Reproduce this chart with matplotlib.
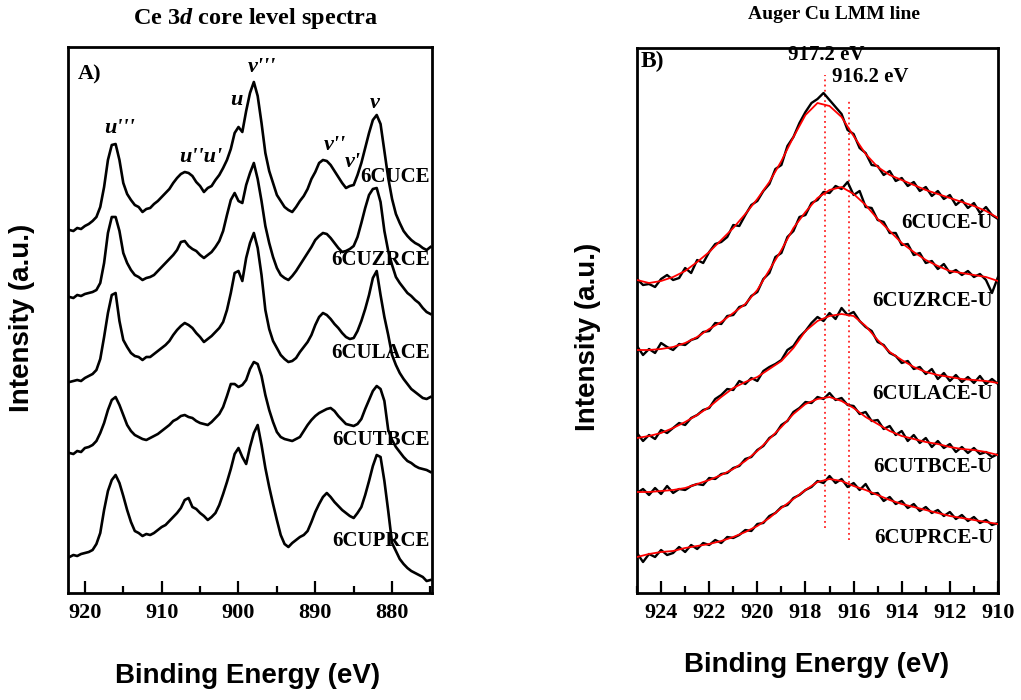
import numpy as np
import matplotlib
matplotlib.use("Agg")
import matplotlib.pyplot as plt
from matplotlib.ticker import MultipleLocator

plt.rcParams['font.family'] = 'Liberation Serif'
plt.rcParams['mathtext.fontset'] = 'custom'
plt.rcParams['mathtext.rm'] = 'Liberation Serif:bold'
plt.rcParams['mathtext.it'] = 'Liberation Serif:bold:italic'
plt.rcParams['mathtext.bf'] = 'Liberation Serif:bold'

# ---- Ce 3d spectra (stacked, a.u.) ----
be_ce = np.arange(922, 874.75, -0.5)

ce_6cuce = [363, 362, 365, 364, 367, 369, 372, 376, 386, 406,
            433, 448, 449, 433, 410, 399, 393, 388, 386, 381,
            384, 385, 389, 392, 396, 400, 404, 410, 415, 419,
            421, 420, 417, 411, 407, 401, 405, 407, 413, 418,
            425, 433, 444, 460, 466, 461, 482, 500, 511, 497,
            470, 440, 422, 410, 398, 392, 386, 383, 381, 386,
            392, 397, 404, 414, 421, 430, 433, 432, 428, 422,
            416, 410, 405, 407, 408, 418, 430, 445, 460, 473,
            478, 469, 442, 415, 394, 379, 370, 362, 357, 353,
            350, 348, 345, 343, 346]
ce_6cuzrce = [296, 295, 298, 297, 299, 300, 301, 303, 310, 330,
              360, 376, 376, 362, 340, 330, 323, 318, 316, 313,
              315, 316, 318, 322, 326, 330, 334, 338, 343, 351,
              352, 347, 344, 342, 338, 335, 338, 341, 346, 352,
              362, 378, 393, 400, 392, 390, 408, 420, 430, 414,
              392, 367, 350, 336, 325, 318, 315, 313, 317, 322,
              328, 334, 340, 346, 353, 357, 360, 359, 355, 350,
              345, 341, 342, 344, 347, 356, 370, 385, 398, 404,
              405, 391, 362, 342, 328, 316, 310, 305, 300, 297,
              293, 290, 285, 281, 279]
ce_6culace = [211, 212, 213, 212, 215, 217, 219, 223, 234, 256,
              280, 298, 300, 272, 253, 246, 240, 237, 236, 233,
              236, 236, 239, 242, 245, 248, 252, 258, 263, 267,
              270, 268, 265, 260, 256, 251, 254, 257, 261, 265,
              271, 283, 300, 320, 322, 312, 335, 350, 360, 345,
              318, 283, 264, 252, 245, 238, 234, 231, 232, 235,
              241, 246, 251, 258, 268, 276, 280, 278, 274, 269,
              265, 260, 256, 254, 255, 262, 272, 284, 298, 315,
              322, 298, 276, 258, 238, 228, 220, 214, 209, 204,
              201, 198, 195, 194, 196]
ce_6cutbce = [140, 139, 142, 141, 145, 146, 148, 152, 160, 170,
              183, 193, 196, 188, 178, 168, 162, 158, 156, 154,
              153, 155, 157, 159, 162, 165, 168, 172, 174, 177,
              178, 176, 175, 172, 170, 169, 168, 171, 175, 179,
              186, 197, 209, 209, 206, 208, 213, 224, 231, 229,
              217, 198, 183, 171, 161, 156, 154, 153, 152, 154,
              156, 162, 168, 173, 177, 180, 182, 184, 185, 182,
              177, 173, 169, 168, 167, 169, 174, 184, 193, 202,
              207, 204, 192, 163, 153, 146, 141, 136, 132, 130,
              127, 125, 124, 123, 121]
ce_6cuprce = [36, 38, 37, 39, 40, 41, 43, 49, 60, 83,
              102, 113, 118, 110, 97, 83, 71, 62, 60, 57,
              59, 58, 60, 63, 66, 68, 72, 76, 80, 85,
              93, 95, 86, 84, 80, 77, 73, 76, 80, 88,
              99, 111, 124, 139, 145, 136, 129, 146, 160, 168,
              148, 125, 106, 89, 73, 58, 49, 46, 50, 53,
              56, 58, 62, 71, 81, 89, 96, 100, 96, 91,
              87, 83, 80, 77, 75, 80, 86, 98, 112, 127,
              138, 136, 112, 82, 50, 42, 34, 29, 25, 22,
              20, 18, 16, 12, 13]

ce_names = ["6CUCE", "6CUZRCE", "6CULACE", "6CUTBCE", "6CUPRCE"]
ce_label_y = [416, 333, 240, 153, 52]

# peak assignments (label, BE, height)
ce_peaks = ["u'''", "u''u'", "u", "v'''", "v''", "v'", "v"]
ce_peak_x = [915.5, 904.9, 900.3, 896.9, 887.5, 885.1, 882.2]
ce_peak_y = [465, 436, 493, 526, 448, 431, 490]

# ---- Auger Cu LMM (raw + fit) ----
be_cu = np.arange(925, 909.9, -0.25)
be_fit = np.arange(925, 909.9, -0.5)

cu_raw_6cuce = [314, 308, 309, 306, 314, 318, 313, 315, 325, 320,
                333, 330, 341, 349, 351, 356, 368, 367, 378, 388,
                392, 402, 409, 424, 428, 447, 456, 470, 481, 490,
                494, 500, 493, 486, 479, 463, 459, 445, 440, 428,
                427, 418, 422, 412, 415, 407, 411, 402, 406, 397,
                402, 394, 398, 388, 393, 385, 390, 380, 386, 378,
                374]
cu_raw_6cuzrce = [247, 238, 244, 240, 250, 246, 243, 249, 248, 253,
                  255, 261, 262, 270, 269, 277, 278, 286, 288, 297,
                  301, 314, 320, 336, 340, 356, 362, 376, 378, 390,
                  393, 401, 400, 407, 404, 411, 398, 402, 386, 385,
                  373, 371, 360, 360, 348, 349, 338, 340, 330, 332,
                  324, 329, 320, 323, 318, 322, 316, 319, 313, 300,
                  316]
cu_raw_6culace = [160, 152, 158, 154, 163, 160, 165, 170, 168, 175,
                  178, 183, 185, 194, 198, 204, 203, 212, 209, 215,
                  212, 222, 226, 229, 233, 243, 247, 256, 262, 270,
                  276, 272, 280, 274, 285, 278, 281, 272, 266, 262,
                  251, 248, 240, 237, 230, 232, 224, 226, 219, 224,
                  214, 220, 212, 218, 211, 216, 210, 217, 209, 214,
                  209]
cu_raw_6cutbce = [100, 104, 98, 105, 99, 107, 100, 104, 103, 107,
                  109, 108, 115, 114, 119, 120, 125, 127, 134, 136,
                  143, 147, 155, 159, 168, 172, 181, 185, 191, 190,
                  196, 194, 200, 193, 195, 188, 187, 179, 181, 172,
                  173, 164, 167, 158, 162, 152, 158, 150, 155, 146,
                  152, 145, 149, 141, 146, 140, 145, 139, 141, 136,
                  139]
cu_raw_6cuprce = [40, 31, 39, 36, 43, 38, 40, 46, 41, 48,
                  44, 50, 48, 53, 50, 56, 55, 58, 63, 62,
                  69, 70, 77, 80, 86, 88, 95, 98, 103, 106,
                  112, 110, 117, 110, 114, 106, 110, 103, 109, 99,
                  100, 92, 96, 89, 92, 85, 89, 82, 86, 80,
                  83, 77, 81, 74, 78, 72, 76, 70, 73, 68,
                  70]

cu_fit_6cuce = [313, 310, 312, 316, 322, 331, 341, 353, 365, 379, 394, 411, 432, 456, 478,
                490, 487, 476, 457, 439, 426, 418, 413, 408, 403, 399, 395, 391, 387, 382, 375]
cu_fit_6cuzrce = [243, 243, 244, 246, 250, 256, 264, 271, 280, 289, 303, 323, 343, 365, 381,
                  395, 403, 406, 399, 388, 374, 362, 350, 341, 333, 327, 322, 320, 318, 316, 312]
cu_fit_6culace = [155, 157, 160, 165, 171, 178, 186, 196, 205, 211, 216, 224, 232, 245, 262,
                  272, 277, 279, 277, 267, 253, 241, 233, 226, 221, 218, 216, 214, 213, 212, 210]
cu_fit_6cutbce = [101, 101, 102, 103, 105, 109, 113, 118, 124, 132, 142, 154, 166, 179, 189,
                  194, 196, 192, 185, 176, 169, 162, 157, 154, 151, 149, 146, 144, 143, 141, 138]
cu_fit_6cuprce = [36, 39, 41, 42, 45, 47, 49, 52, 56, 61, 67, 75, 85, 94, 103,
                  111, 114, 112, 107, 103, 98, 93, 89, 86, 83, 80, 77, 75, 73, 71, 69]

cu_names = ["6CUCE-U", "6CUZRCE-U", "6CULACE-U", "6CUTBCE-U", "6CUPRCE-U"]
cu_label_y = [370, 292, 199, 126, 55]

# Cu LMM peak markers: position, vertical extent, label spot
cu_peak_pos = [917.2, 916.2]
cu_peak_span = [(65, 518), (53, 493)]
cu_peak_label_x = [917.14, 915.3]
cu_peak_label_y = [538, 516]

# ---- figure ----
fig = plt.figure(figsize=(10.21, 7.0), dpi=100)
axA = fig.add_axes([68 / 1021, 1 - 593 / 700, 364 / 1021, 546 / 700])
axB = fig.add_axes([637 / 1021, 1 - 593 / 700, 361 / 1021, 545 / 700])

for ax in (axA, axB):
    for s in ax.spines.values():
        s.set_linewidth(2.0)
    ax.tick_params(axis='x', which='both', direction='in', top=False, width=1.6,
                   labelsize=16, pad=7)
    ax.tick_params(axis='x', which='major', length=9)
    ax.tick_params(axis='x', which='minor', length=5)
    ax.set_yticks([])

# panel A
ce_curves = [ce_6cuce, ce_6cuzrce, ce_6culace, ce_6cutbce, ce_6cuprce]
for y in ce_curves:
    axA.plot(be_ce, y, color='black', lw=1.9, zorder=2)
for name, yl in zip(ce_names, ce_label_y):
    axA.text(875.1, yl, name, ha='right', va='center', fontsize=15,
             fontweight='bold', zorder=1)
for lab, px, py in zip(ce_peaks, ce_peak_x, ce_peak_y):
    axA.text(px, py, lab, ha='center', va='center', fontsize=16,
             fontweight='bold', fontstyle='italic')
axA.text(0.027, 0.95, "A)", transform=axA.transAxes, ha='left', va='center',
         fontsize=16, fontweight='bold')
axA.set_xlim(922.2, 874.8)
axA.set_ylim(0, 546)
axA.xaxis.set_major_locator(MultipleLocator(10))
axA.xaxis.set_minor_locator(MultipleLocator(5))

# panel B
cu_raw = [cu_raw_6cuce, cu_raw_6cuzrce, cu_raw_6culace, cu_raw_6cutbce, cu_raw_6cuprce]
cu_fit = [cu_fit_6cuce, cu_fit_6cuzrce, cu_fit_6culace, cu_fit_6cutbce, cu_fit_6cuprce]
for raw, fit in zip(cu_raw, cu_fit):
    axB.plot(be_cu, raw, color='black', lw=1.7, zorder=2)
    axB.plot(be_fit, fit, color='red', lw=1.3, zorder=3)
for name, yl in zip(cu_names, cu_label_y):
    axB.text(910.2, yl, name, ha='right', va='center', fontsize=15,
             fontweight='bold', zorder=1)
for p, span, lx, ly in zip(cu_peak_pos, cu_peak_span, cu_peak_label_x, cu_peak_label_y):
    axB.plot([p, p], span, color='red', lw=1.1, ls=(0, (1.2, 2.2)), zorder=1)
    axB.text(lx, ly, f"{p} eV", ha='center', va='center', fontsize=15,
             fontweight='bold')
axB.text(0.01, 0.976, "B)", transform=axB.transAxes, ha='left', va='center',
         fontsize=17, fontweight='bold')
axB.set_xlim(925, 910)
axB.set_ylim(0, 545)
axB.xaxis.set_major_locator(MultipleLocator(2))
axB.xaxis.set_minor_locator(MultipleLocator(1))

for ax in (axA, axB):
    for lab in ax.get_xticklabels():
        lab.set_fontweight('bold')

# titles and axis labels
fig.text(0.25, 0.974, "Ce 3$d$ core level spectra", ha='center', va='center',
         fontsize=17.5, fontweight='bold')
fig.text(0.817, 0.979, "Auger Cu LMM line", ha='center', va='center',
         fontsize=14, fontweight='bold')
for xc, yc in [(0.0215, 0.546), (0.576, 0.519)]:
    fig.text(xc, yc, "Intensity (a.u.)", rotation=90, ha='center', va='center',
             fontsize=20, fontweight='bold', family='Liberation Sans')
fig.text(0.242, 0.034, "Binding Energy (eV)", ha='center', va='center',
         fontsize=20, fontweight='bold', family='Liberation Sans')
fig.text(0.800, 0.05, "Binding Energy (eV)", ha='center', va='center',
         fontsize=20, fontweight='bold', family='Liberation Sans')

fig.savefig("out.png", dpi=100)
